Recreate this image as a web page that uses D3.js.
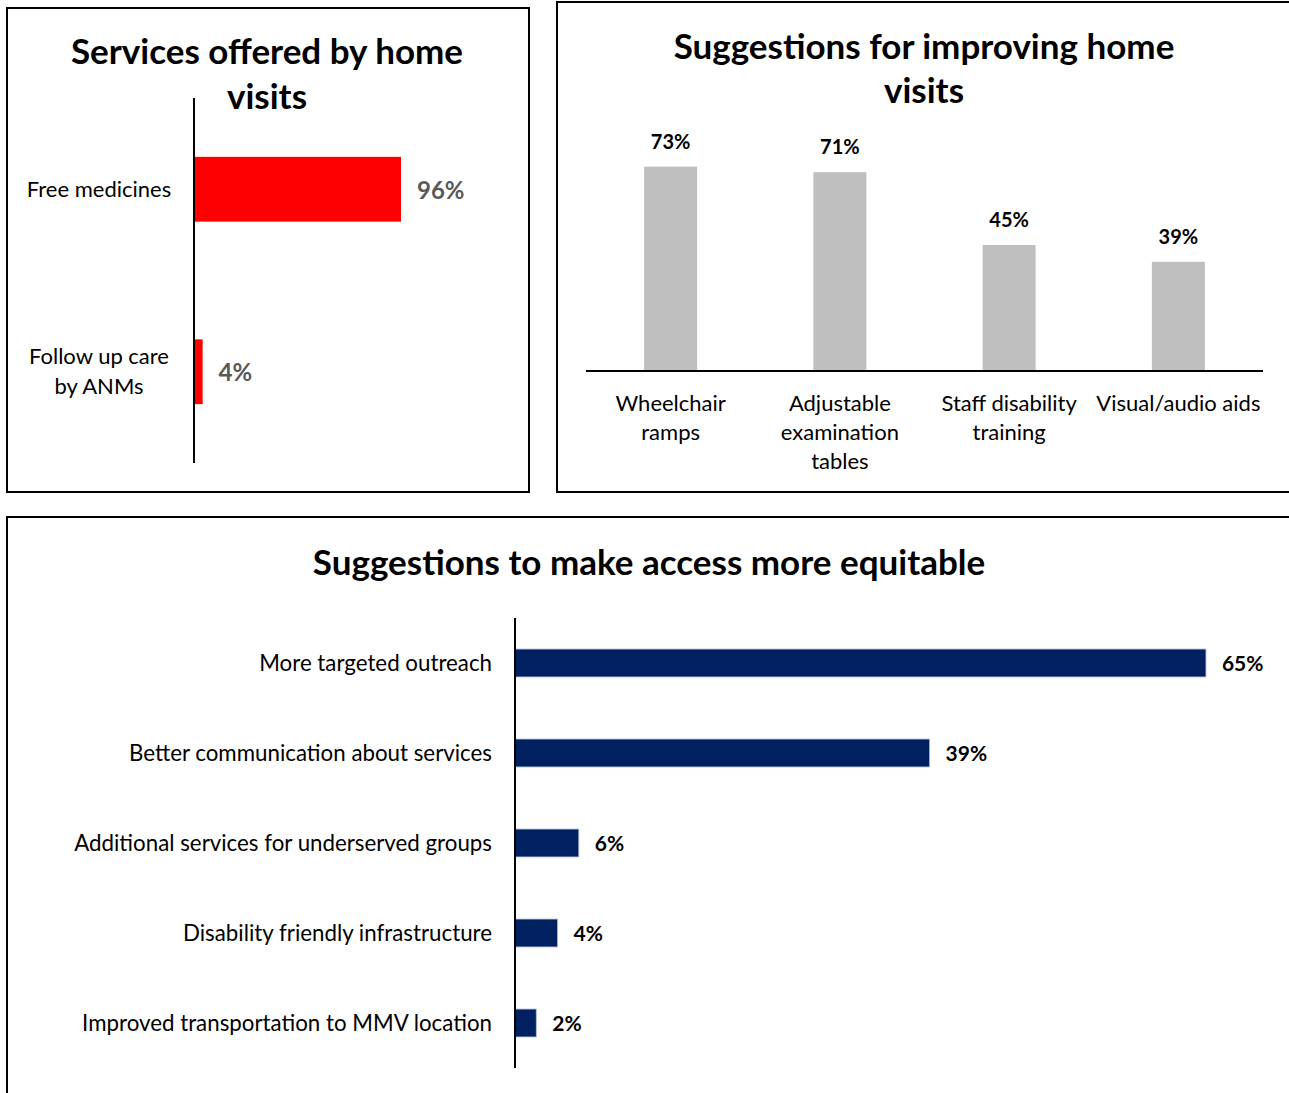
<!DOCTYPE html>
<html>
<head>
<meta charset="utf-8">
<script src="https://cdn.jsdelivr.net/npm/d3@7/dist/d3.min.js"></script>
<style>
  html, body { margin: 0; padding: 0; background: #fff; }
  svg { display: block; font-family: Lato, "Open Sans", sans-serif; }
</style>
</head>
<body>
<svg id="chart" width="1289" height="1093"></svg>
<script>
// Services offered by home visits
const serviceCategories = [["Free medicines"], ["Follow up care", "by ANMs"]];
const serviceValues = [96, 4];
const serviceTitle = ["Services offered by home", "visits"];

// Suggestions for improving home visits
const improveCategories = [["Wheelchair", "ramps"], ["Adjustable", "examination", "tables"], ["Staff disability", "training"], ["Visual/audio aids"]];
const improveValues = [73, 71, 45, 39];
const improveTitle = ["Suggestions for improving home", "visits"];

// Suggestions to make access more equitable
const equityCategories = ["More targeted outreach", "Better communication about services", "Additional services for underserved groups", "Disability friendly infrastructure", "Improved transportation to MMV location"];
const equityValues = [65, 39, 6, 4, 2];
const equityTitle = ["Suggestions to make access more equitable"];

const svg = d3.select("#chart");
const pct = d => d + "%";

function frame(x, y, w, h) {
  svg.append("rect").attr("x", x).attr("y", y).attr("width", w).attr("height", h)
    .attr("fill", "#fff").attr("stroke", "#000").attr("stroke-width", 2);
}

function title(lines, cx, y0, size, gap) {
  const t = svg.append("text").attr("text-anchor", "middle")
    .attr("font-weight", 700).attr("font-size", size).attr("fill", "#000");
  lines.forEach((l, i) => t.append("tspan").attr("x", cx).attr("y", y0 + i * gap).text(l));
}

// ---------- Panel 1: horizontal red bars ----------
frame(7, 8, 522, 484);
{
  const g = svg.append("g");
  const y = d3.scaleBand().domain(d3.range(serviceValues.length)).range([98, 463]).padding(0);
  const x = d3.scaleLinear().domain([0, 100]).range([194, 194 + 215.6]);
  const bh = y.step() * 0.355;
  g.selectAll("rect.bar").data(serviceValues).join("rect").attr("class", "bar")
    .attr("x", x(0)).attr("y", (d, i) => y(i) + y.bandwidth() / 2 - bh / 2)
    .attr("width", d => x(d) - x(0)).attr("height", bh).attr("fill", "#FF0000");
  g.append("line").attr("x1", x(0)).attr("x2", x(0)).attr("y1", y.range()[0]).attr("y2", y.range()[1])
    .attr("stroke", "#000").attr("stroke-width", 2);
  g.selectAll("text.val").data(serviceValues).join("text").attr("class", "val")
    .attr("x", d => x(d) + 16).attr("y", (d, i) => y(i) + y.bandwidth() / 2 + 1)
    .attr("dy", "0.35em").attr("font-size", 24).attr("font-weight", 700).attr("fill", "#595959")
    .text(pct);
  serviceCategories.forEach((lines, i) => {
    const cy = y(i) + y.bandwidth() / 2;
    const t = g.append("text").attr("text-anchor", "middle").attr("font-size", 22).attr("fill", "#000");
    lines.forEach((l, j) => t.append("tspan").attr("x", 99)
      .attr("y", cy + (j - (lines.length - 1) / 2) * 30).attr("dy", "0.35em").text(l));
  });
  title(serviceTitle, 267, 64, 35, 45);
}

// ---------- Panel 2: vertical grey columns ----------
frame(557, 2, 740, 490);
{
  const g = svg.append("g");
  const x = d3.scaleBand().domain(d3.range(improveValues.length)).range([586, 1263]).padding(0);
  const y = d3.scaleLinear().domain([0, 100]).range([371, 371 - 280]);
  const bw = 53;
  g.selectAll("rect.bar").data(improveValues).join("rect").attr("class", "bar")
    .attr("x", (d, i) => x(i) + x.bandwidth() / 2 - bw / 2).attr("y", d => y(d))
    .attr("width", bw).attr("height", d => y(0) - y(d)).attr("fill", "#BFBFBF");
  g.append("line").attr("x1", x.range()[0]).attr("x2", x.range()[1]).attr("y1", y(0)).attr("y2", y(0))
    .attr("stroke", "#000").attr("stroke-width", 2);
  g.selectAll("text.val").data(improveValues).join("text").attr("class", "val")
    .attr("x", (d, i) => x(i) + x.bandwidth() / 2).attr("y", d => y(d) - 18)
    .attr("text-anchor", "middle").attr("font-size", 20).attr("font-weight", 700).attr("fill", "#000")
    .text(pct);
  improveCategories.forEach((lines, i) => {
    const t = g.append("text").attr("text-anchor", "middle").attr("font-size", 22).attr("fill", "#000");
    lines.forEach((l, j) => t.append("tspan").attr("x", x(i) + x.bandwidth() / 2)
      .attr("y", 403 + j * 29).attr("dy", "0.35em").text(l));
  });
  title(improveTitle, 924, 59, 35, 44);
}

// ---------- Panel 3: horizontal navy bars ----------
frame(7, 517, 1290, 590);
{
  const g = svg.append("g");
  const y = d3.scaleBand().domain(equityCategories).range([618, 1068]).padding(0);
  const x = d3.scaleLinear().domain([0, 100]).range([515, 515 + 1063]);
  const bh = y.step() * 0.31;
  g.selectAll("rect.bar").data(equityValues).join("rect").attr("class", "bar")
    .attr("x", x(0)).attr("y", (d, i) => y(equityCategories[i]) + y.bandwidth() / 2 - bh / 2)
    .attr("width", d => x(d) - x(0)).attr("height", bh).attr("fill", "#002060")
    .attr("stroke", "#A9B8D6").attr("stroke-width", 0.8);
  g.append("line").attr("x1", x(0)).attr("x2", x(0)).attr("y1", y.range()[0]).attr("y2", y.range()[1])
    .attr("stroke", "#000").attr("stroke-width", 2);
  g.selectAll("text.val").data(equityValues).join("text").attr("class", "val")
    .attr("x", d => x(d) + 16).attr("y", (d, i) => y(equityCategories[i]) + y.bandwidth() / 2 + 1)
    .attr("dy", "0.35em").attr("font-size", 21).attr("font-weight", 700).attr("fill", "#000")
    .text(pct);
  g.selectAll("text.cat").data(equityCategories).join("text").attr("class", "cat")
    .attr("x", 492).attr("y", d => y(d) + y.bandwidth() / 2).attr("dy", "0.35em")
    .attr("text-anchor", "end").attr("font-size", 22.3).attr("fill", "#000").text(d => d);
  title(equityTitle, 649, 575, 35, 44);
}
</script>
</body>
</html>
